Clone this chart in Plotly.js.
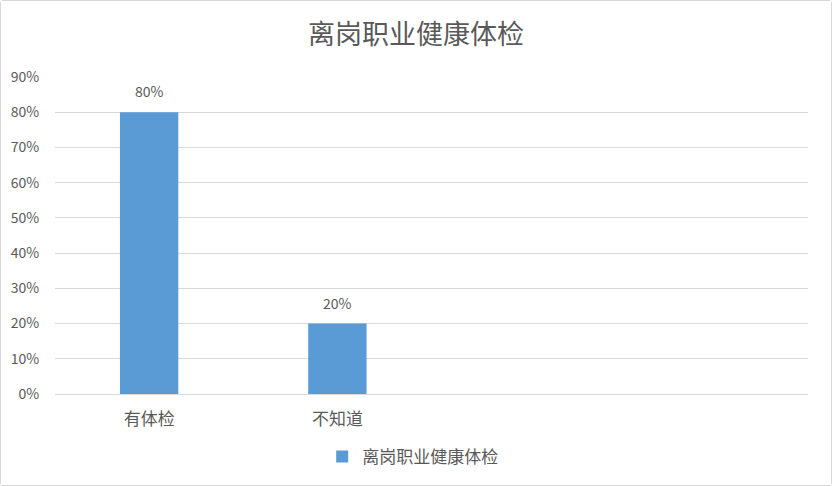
<!DOCTYPE html>
<html>
<head>
<meta charset="utf-8">
<script src="https://cdn.plot.ly/plotly-3.0.1.min.js"></script>
<style>
  html, body { margin: 0; padding: 0; background: #fff; }
  #chart { width: 830px; height: 484px; border: 1px solid #d9d9d9; border-radius: 3px; }
</style>
</head>
<body>
<div id="chart"></div>
<script>
// chart data
var categories = ['有体检', '不知道', ' ', '  '];
var values = [0.8, 0.2, null, null];
var labels = ['80%', '20%', '', ''];
var seriesName = '离岗职业健康体检';

var font = "'Noto Sans CJK SC', 'Noto Sans', sans-serif";
var grey = '#595959';

var trace = {
  x: categories,
  y: values,
  type: 'bar',
  name: seriesName,
  marker: { color: '#5b9bd5' },
  showlegend: true,
  hoverinfo: 'none'
};

// value labels above the bars
var annotations = [];
for (var i = 0; i < categories.length; i++) {
  if (values[i] === null) continue;
  annotations.push({
    x: categories[i],
    y: values[i],
    text: labels[i],
    showarrow: false,
    yanchor: 'bottom',
    yshift: 9,
    font: { size: 14, color: grey, family: font }
  });
}

var layout = {
  width: 830,
  height: 484,
  margin: { l: 54, r: 23, t: 76, b: 91 },
  paper_bgcolor: '#fff',
  plot_bgcolor: '#fff',
  font: { family: font, color: grey, size: 13 },
  title: {
    text: seriesName,
    font: { size: 27, color: grey, family: font },
    x: 0.5, xanchor: 'center',
    y: 0.93, yanchor: 'middle'
  },
  bargap: 0.69,
  annotations: annotations,
  xaxis: {
    type: 'category',
    categoryorder: 'array',
    categoryarray: categories,
    range: [-0.5, 3.5],
    showline: false,
    ticks: 'outside',
    ticklen: 10,
    tickcolor: 'rgba(0,0,0,0)',
    tickfont: { size: 17, color: grey },
    showgrid: false,
    zeroline: false
  },
  yaxis: {
    range: [0, 0.9],
    dtick: 0.1,
    tickformat: '.0%',
    gridcolor: '#d9d9d9',
    gridwidth: 1,
    zeroline: true,
    zerolinecolor: '#d9d9d9',
    zerolinewidth: 1,
    showline: false,
    ticks: 'outside',
    ticklen: 12,
    tickcolor: 'rgba(0,0,0,0)',
    tickfont: { size: 14, color: grey }
  },
  legend: {
    orientation: 'h',
    x: 0.475, xanchor: 'center',
    yref: 'container',
    y: 0.058, yanchor: 'middle',
    itemwidth: 30,
    font: { size: 17, color: grey }
  }
};

Plotly.newPlot('chart', [trace], layout, { displayModeBar: false, staticPlot: true });
</script>
</body>
</html>
